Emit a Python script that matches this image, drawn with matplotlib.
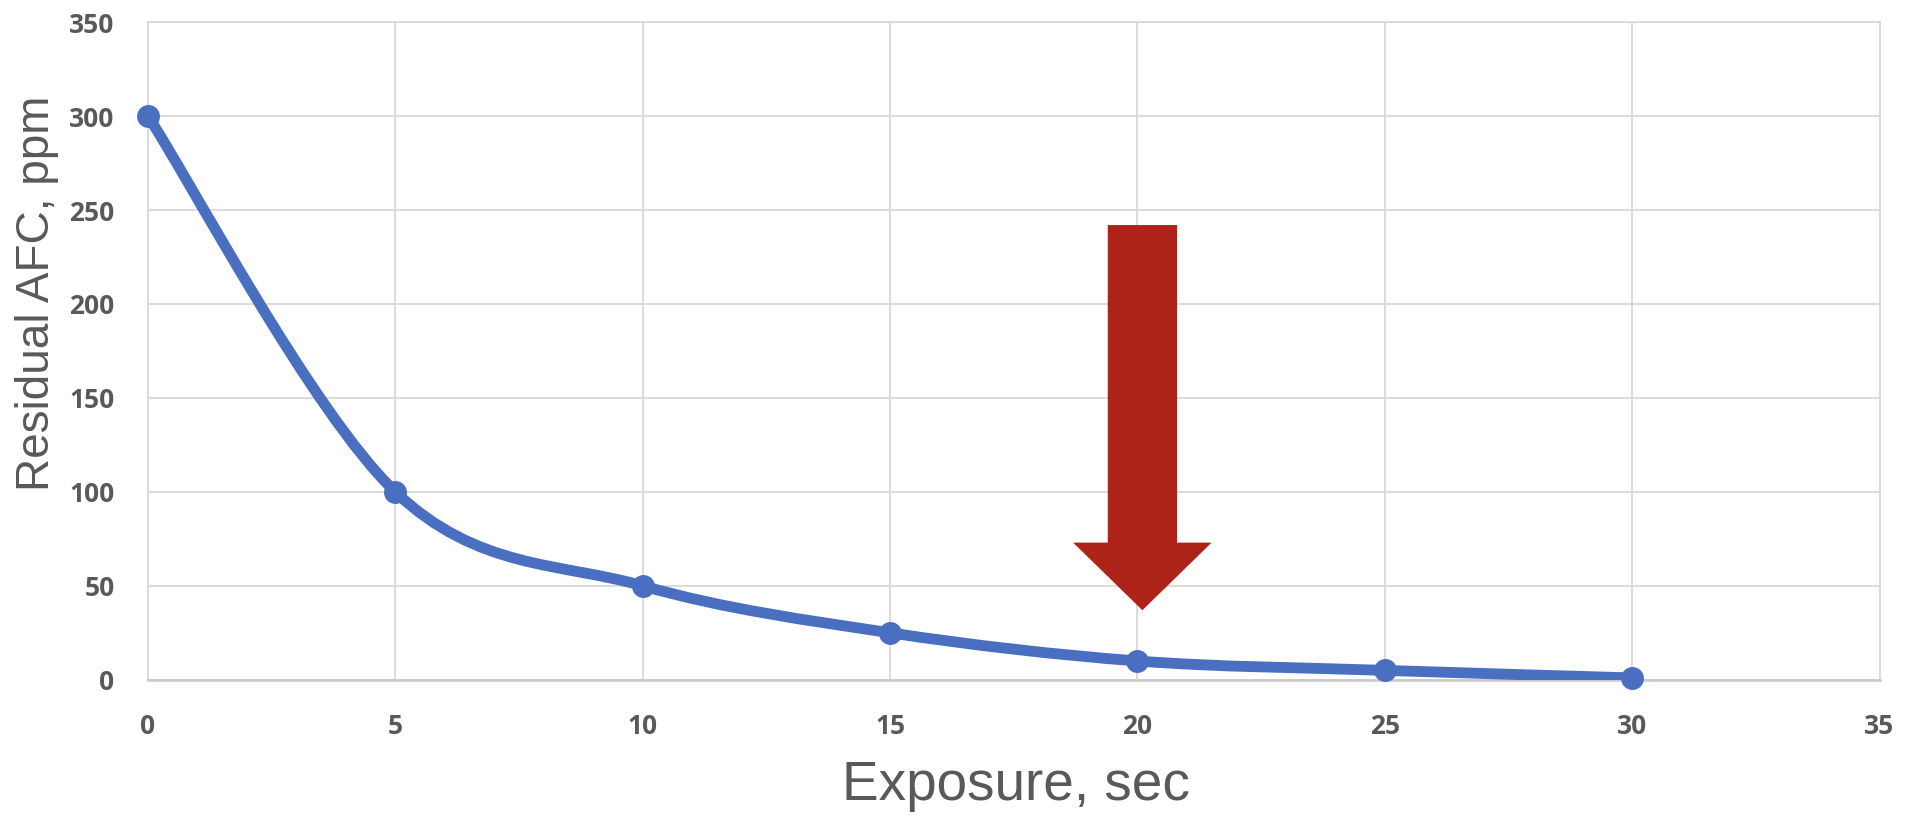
import matplotlib.pyplot as plt
import numpy as np
from matplotlib.path import Path
from matplotlib.patches import PathPatch, FancyArrow

# data
exposure = [0, 5, 10, 15, 20, 25, 30]
residual_afc = [300, 100, 50, 25, 10, 5, 1]
x_ticks = [0, 5, 10, 15, 20, 25, 30, 35]
y_ticks = [0, 50, 100, 150, 200, 250, 300, 350]

line_color = '#4a6fc1'
arrow_color = '#ad2318'
text_color = '#595959'
grid_color = '#d9d9d9'

fig = plt.figure(figsize=(19.14, 8.19), dpi=100)
ax = fig.add_axes([0.0773, 0.170, 0.9047, 0.803])

# smoothed line like Excel (cubic bezier through the points)
pts = np.column_stack([exposure, residual_afc]).astype(float)
padded = np.vstack([pts[0], pts, pts[-1]])
verts = [pts[0]]
codes = [Path.MOVETO]
for i in range(len(pts) - 1):
    p_prev, p0, p1, p_next = padded[i], padded[i + 1], padded[i + 2], padded[i + 3]
    c1 = p0 + (p1 - p_prev) / 6
    c2 = p1 - (p_next - p0) / 6
    verts += [c1, c2, p1]
    codes += [Path.CURVE4] * 3
curve = PathPatch(Path(verts, codes), facecolor='none', edgecolor=line_color,
                  linewidth=7.8, capstyle='round', joinstyle='round', zorder=3)
ax.add_patch(curve)
ax.plot(exposure, residual_afc, linestyle='none', marker='o', markersize=15.5,
        color=line_color, zorder=4, clip_on=False)

# red arrow pointing to 20 sec
ax.add_patch(FancyArrow(20.1, 242, 0, -205, width=1.4, head_width=2.8,
                        head_length=36, length_includes_head=True,
                        color=arrow_color, linewidth=0, zorder=5))

ax.set_xlim(0, 35)
ax.set_ylim(0, 350)
ax.set_xticks(x_ticks)
ax.set_yticks(y_ticks)
ax.set_xticklabels([str(v) for v in x_ticks], family='Open Sans',
                   fontweight='bold', fontsize=19, color=text_color)
ax.set_yticklabels([str(v) for v in y_ticks], family='Open Sans',
                   fontweight='bold', fontsize=19, color=text_color)
ax.grid(True, color=grid_color, linewidth=1.3)
ax.set_axisbelow(True)
for side in ['top', 'right', 'left']:
    ax.spines[side].set_color(grid_color)
    ax.spines[side].set_linewidth(1.3)
ax.spines['bottom'].set_color('#c8c8c8')
ax.spines['bottom'].set_linewidth(1.8)
ax.tick_params(length=0)
ax.tick_params(axis='x', pad=24)
ax.tick_params(axis='y', pad=24)

fig.text(37 / 1914, 1 - 293 / 819, 'Residual AFC, ppm', rotation=90,
         ha='center', va='center', fontsize=33, color=text_color,
         family='Liberation Sans')
fig.text(1016 / 1914, 1 - 786 / 819, 'Exposure, sec', ha='center',
         va='center', fontsize=39.5, color=text_color, family='Liberation Sans')

fig.savefig('out.png', dpi=100)
